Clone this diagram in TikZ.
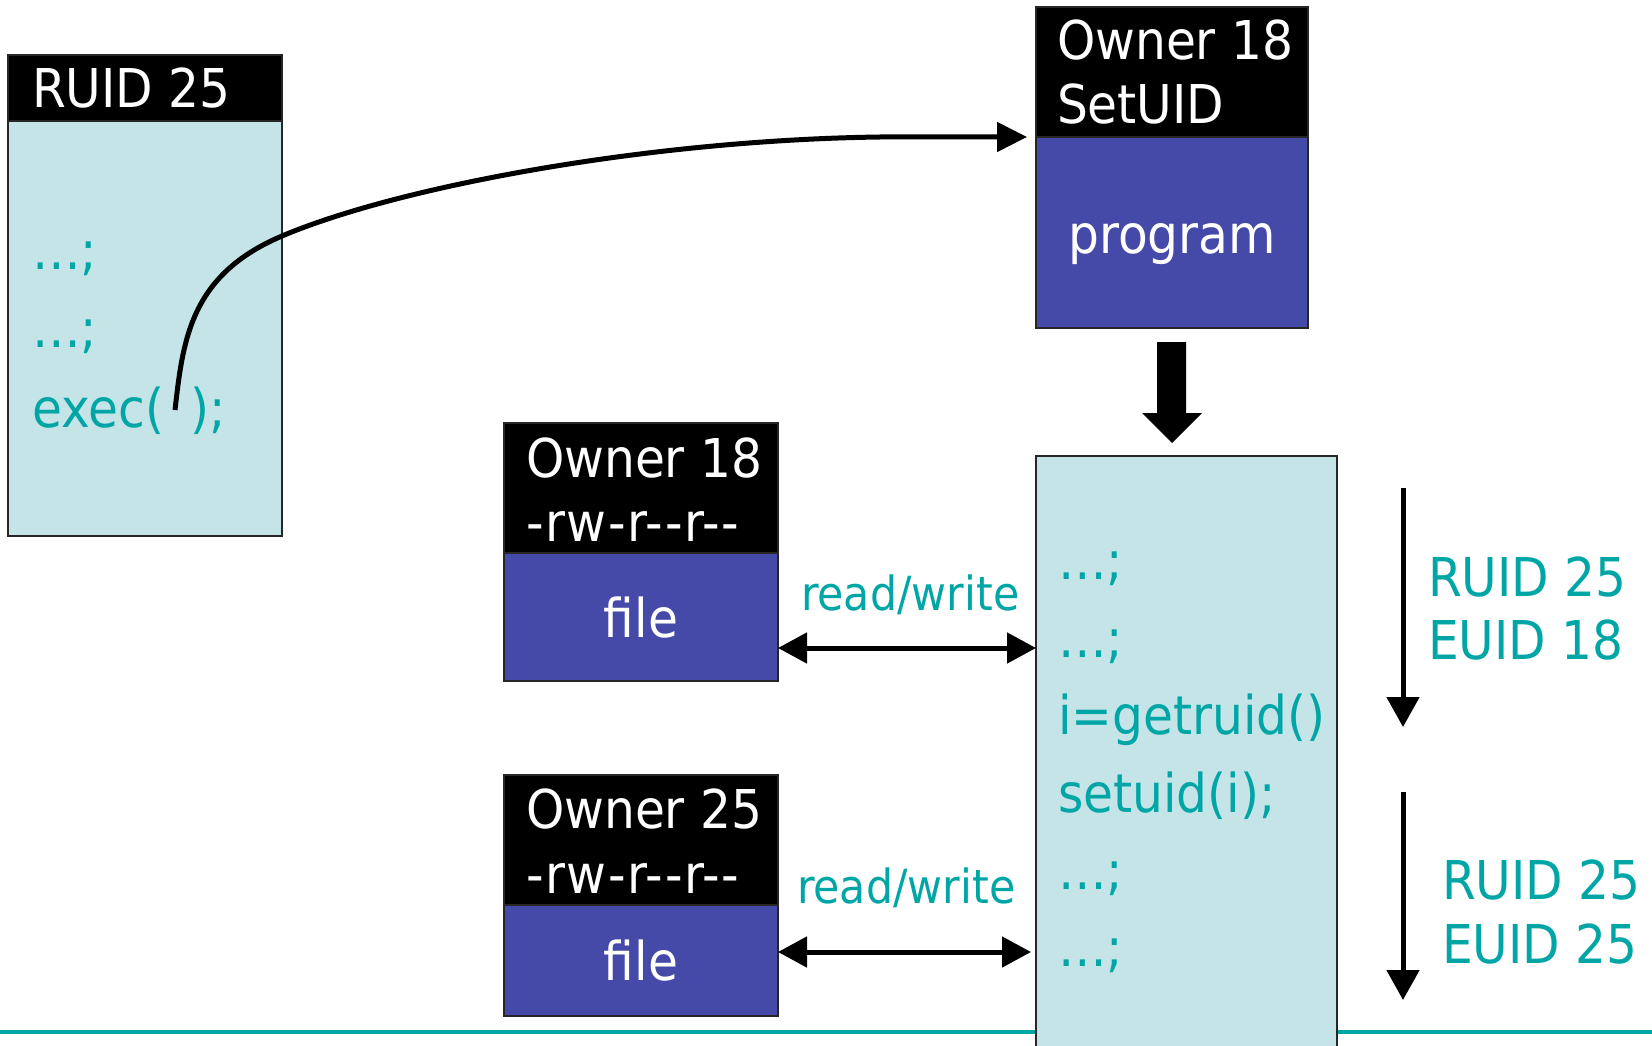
\documentclass[tikz,border=0pt]{standalone}
\usepackage{fontspec}
\setmainfont{DejaVu Sans}[FakeStretch=0.91]
\usetikzlibrary{arrows.meta,calc}
\definecolor{tealtxt}{HTML}{00A6A6}
\definecolor{palebox}{HTML}{C5E4E7}
\definecolor{bluebox}{HTML}{4549A8}
\newcommand{\bigfnt}{\fontsize{53.5pt}{64pt}\selectfont}
\newcommand{\rwfnt}{\fontsize{47pt}{56pt}\selectfont}
\newcommand{\permfnt}{\addfontfeature{LetterSpace=3}}
\begin{document}
\begin{tikzpicture}[x=1pt,y=-1pt,
  boxshape/.style={draw=black!85, line width=1.5pt, inner sep=0pt, outer sep=0pt, anchor=north west, rectangle},
  hdrbox/.style={boxshape, fill=black},
  palefill/.style={boxshape, fill=palebox},
  bluefill/.style={boxshape, fill=bluebox},
  codetxt/.style={anchor=base west, inner sep=0pt, outer sep=0pt, text=tealtxt, font=\bigfnt},
  whitetxt/.style={anchor=base west, inner sep=0pt, outer sep=0pt, text=white, font=\bigfnt},
  labtxt/.style={anchor=base west, inner sep=0pt, outer sep=0pt, text=tealtxt, font=\rwfnt},
  conn/.style={line width=5pt, -{Triangle[length=30pt,width=29pt]}},
  rwconn/.style={line width=5pt, {Triangle[length=29pt,width=30pt]}-{Triangle[length=29pt,width=30pt]}},
  flowconn/.style={line width=5pt, -{Triangle[length=30pt,width=32pt]}}
]
\useasboundingbox (0,0) rectangle (1652,1046);

% bottom teal rule
\coordinate (hl) at (0,1032);
\coordinate (hr) at (1652,1032);
\draw[tealtxt, line width=4pt] (hl) -- (hr);

% left process box
\node[palefill, minimum width=274pt, minimum height=481pt] (lbox) at (8,55) {};
\node[hdrbox, minimum width=274pt, minimum height=66pt] (lhdr) at (8,55) {};
\node[whitetxt] (lt1) at (32,108) {RUID 25};
\node[codetxt] (lc1) at (32,269) {…;};
\node[codetxt] (lc2) at (32,347) {…;};
\node[codetxt] (lc3) at (32,427) {exec(\hspace{26pt});};

% program box
\node[hdrbox, minimum width=272pt, minimum height=130pt] (phdr) at (1036,7) {};
\node[bluefill, minimum width=272pt, minimum height=191pt] (pbody) at (1036,137) {};
\node[whitetxt] (pt1) at (1057,60) {Owner 18};
\node[whitetxt] (pt2) at (1057,124) {SetUID};
\node[whitetxt, anchor=base] (pt3) at (1172,253) {program};

% file 1
\node[hdrbox, minimum width=274pt, minimum height=130pt] (f1hdr) at (504,423) {};
\node[bluefill, minimum width=274pt, minimum height=128pt] (f1body) at (504,553) {};
\node[whitetxt] (f1t1) at (526,477) {Owner 18};
\node[whitetxt] (f1t2) at (526,541) {\permfnt -rw-r-{}-r-{}-};
\node[whitetxt, anchor=base] (f1t3) at (641,637) {file};

% file 2
\node[hdrbox, minimum width=274pt, minimum height=130pt] (f2hdr) at (504,775) {};
\node[bluefill, minimum width=274pt, minimum height=111pt] (f2body) at (504,905) {};
\node[whitetxt] (f2t1) at (526,828) {Owner 25};
\node[whitetxt] (f2t2) at (526,893) {\permfnt -rw-r-{}-r-{}-};
\node[whitetxt, anchor=base] (f2t3) at (641,980) {file};

% big process box
\node[palefill, minimum width=301pt, minimum height=620pt] (big) at (1036,456) {};
\node[codetxt] (bc1) at (1058,579) {…;};
\node[codetxt] (bc2) at (1058,657) {…;};
\node[codetxt] (bc3) at (1058,734) {i=getruid()};
\node[codetxt] (bc4) at (1058,812) {setuid(i);};
\node[codetxt] (bc5) at (1058,889) {…;};
\node[codetxt] (bc6) at (1058,966) {…;};

% right labels
\node[codetxt] (r1) at (1428,596) {RUID 25};
\node[codetxt] (r2) at (1428,659) {EUID 18};
\node[codetxt] (r3) at (1442,899) {RUID 25};
\node[codetxt] (r4) at (1442,963) {EUID 25};

% read/write labels
\node[labtxt] (rw1l) at (801,610) {read/write};
\node[labtxt] (rw2l) at (797,903) {read/write};

% exec curve
\coordinate (execpt) at (175,410);
\draw[conn] (execpt) .. controls (183,340) and (190,275) .. (282,236)
  .. controls (400,186) and (650,140) .. (880,137) -- ([xshift=-9pt]phdr.south west);

% thick block arrow program -> process
\fill ($(pbody.south)+(-15,14)$) -- ($(pbody.south)+(14,14)$) -- ($(pbody.south)+(14,85)$)
  -- ($(pbody.south)+(30,85)$) -- ($(pbody.south |- big.north)+(0,-13)$)
  -- ($(pbody.south)+(-30,85)$) -- ($(pbody.south)+(-15,85)$) -- cycle;

% read/write arrows
\draw[rwconn] (f1body.east |- 0,648) -- (big.west |- 0,648);
\draw[rwconn, shorten >=5pt] (f2body.east |- 0,952) -- (big.west |- 0,952);

% time arrows
\coordinate (a1s) at (1403,488);
\coordinate (a1e) at (1403,727);
\coordinate (a2s) at (1403,792);
\coordinate (a2e) at (1403,1000);
\draw[flowconn] (a1s) -- (a1e);
\draw[flowconn] (a2s) -- (a2e);
\end{tikzpicture}
\end{document}
